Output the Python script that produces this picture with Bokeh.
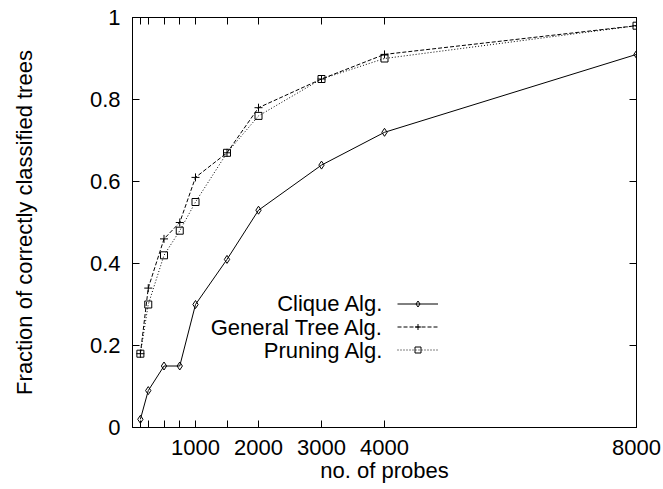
from bokeh.plotting import figure
from bokeh.models import FixedTicker, LinearAxis, Range1d, Legend, LegendItem, Label
from bokeh.embed import file_html
from bokeh.resources import INLINE
from bokeh.core.properties import value

# ---- data ----
probes = [125, 250, 500, 750, 1000, 1500, 2000, 3000, 4000, 8000]
clique = [0.02, 0.09, 0.15, 0.15, 0.30, 0.41, 0.53, 0.64, 0.72, 0.91]
general = [0.18, 0.34, 0.46, 0.50, 0.61, 0.67, 0.78, 0.85, 0.91, 0.98]
pruning = [0.18, 0.30, 0.42, 0.48, 0.55, 0.67, 0.76, 0.85, 0.90, 0.98]
x_labelled = [1000, 2000, 3000, 4000, 8000]
y_ticks = [0, 0.2, 0.4, 0.6, 0.8, 1]
y_tick_labels = ["0", "0.2", "0.4", "0.6", "0.8", "1"]
series_names = ["Clique Alg.", "General Tree Alg.", "Pruning Alg."]
x_title = "no. of probes"
y_title = "Fraction of correctly classified trees"

FONT = "Liberation Sans"
FS = "22px"

p = figure(width=663, height=489, output_backend="svg", toolbar_location=None,
           x_range=Range1d(0, 8000), y_range=Range1d(0, 1),
           min_border_left=132, min_border_right=27, min_border_top=17,
           min_border_bottom=62, x_axis_location=None, y_axis_location=None)
p.outline_line_color = "black"
p.outline_line_width = 1
p.background_fill_color = "white"
p.border_fill_color = "white"
p.xgrid.grid_line_color = None
p.ygrid.grid_line_color = None


def style_axis(ax, show_labels):
    ax.major_tick_in = 7
    ax.major_tick_out = 0
    ax.minor_tick_in = 0
    ax.minor_tick_out = 0
    ax.axis_line_color = "black"
    ax.major_tick_line_color = "black"
    ax.major_label_text_font = FONT
    ax.major_label_text_color = "black"
    ax.axis_label_text_font = FONT
    ax.axis_label_text_font_size = FS
    ax.axis_label_text_font_style = "normal"
    ax.axis_label_text_color = "black"
    if show_labels:
        ax.major_label_text_font_size = FS
    else:
        ax.major_label_text_font_size = "1px"
        ax.major_label_standoff = 0


bottom = LinearAxis(ticker=FixedTicker(ticks=probes),
                    major_label_overrides={x: (str(x) if x in x_labelled else "") for x in probes},
                    axis_label=x_title)
style_axis(bottom, True)
bottom.major_label_standoff = 12
bottom.axis_label_standoff = 0
p.add_layout(bottom, "below")

top = LinearAxis(ticker=FixedTicker(ticks=probes),
                 major_label_overrides={x: "" for x in probes})
style_axis(top, False)
p.add_layout(top, "above")

left = LinearAxis(ticker=FixedTicker(ticks=y_ticks),
                  major_label_overrides=dict(zip(y_ticks, y_tick_labels)),
                  axis_label=y_title)
style_axis(left, True)
left.major_label_standoff = 12
left.axis_label_standoff = 50
p.add_layout(left, "left")

right = LinearAxis(ticker=FixedTicker(ticks=y_ticks),
                   major_label_overrides={y: "" for y in y_ticks})
style_axis(right, False)
p.add_layout(right, "right")

# ---- series ----
r1 = p.line(probes, clique, line_color="black", line_width=1)
s1 = p.scatter(probes, clique, marker="diamond", size=8,
               fill_alpha=0, line_color="black", line_width=1)
r2 = p.line(probes, general, line_color="black", line_width=1, line_dash="4 2")
s2 = p.scatter(probes, general, marker="cross", size=8, line_color="black", line_width=1)
r3 = p.line(probes, pruning, line_color="black", line_width=1, line_dash="1 2")
s3 = p.scatter(probes, pruning, marker="square", size=7, fill_alpha=0,
               line_color="black", line_width=1)

legend = Legend(items=[LegendItem(label=value(""), renderers=[r1, s1]),
                       LegendItem(label=value(""), renderers=[r2, s2]),
                       LegendItem(label=value(""), renderers=[r3, s3])],
                location=(265, 70), glyph_width=41, glyph_height=15,
                label_width=0, label_height=15, label_standoff=0, padding=0,
                margin=0, spacing=8, border_line_alpha=0, background_fill_alpha=0)
p.add_layout(legend)

legend_text_x = 3985
legend_text_y = [0.302, 0.244, 0.188]
for name, ty in zip(series_names, legend_text_y):
    p.add_layout(Label(x=legend_text_x, y=ty, text=name, text_align="right",
                       text_baseline="middle", text_font=FONT, text_font_size=FS,
                       text_color="black"))

open("out.html", "w").write(file_html(p, INLINE))
